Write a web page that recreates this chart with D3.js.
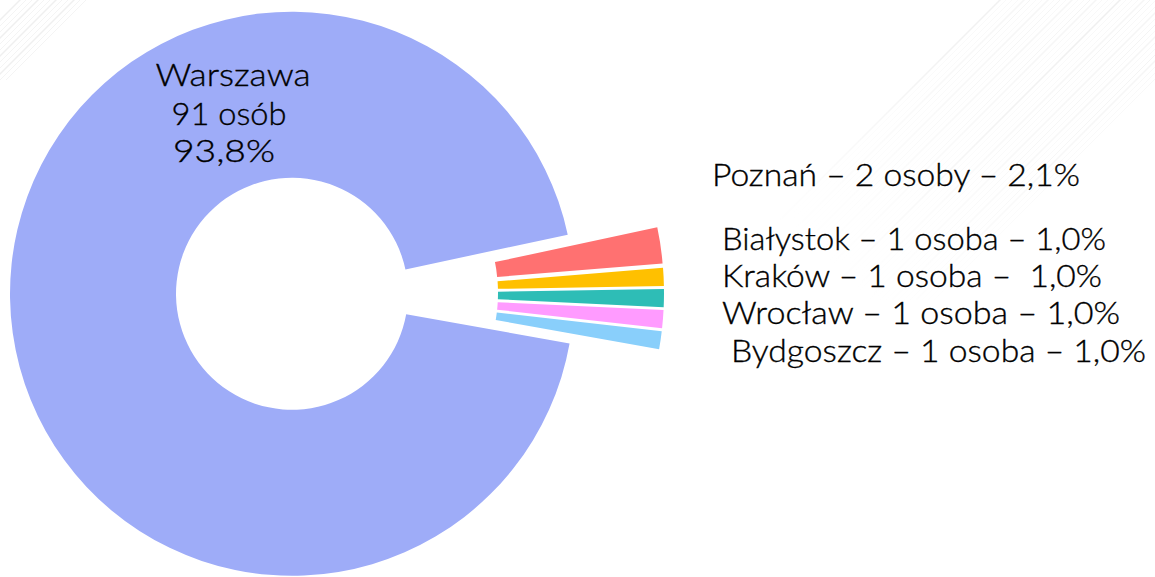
<!DOCTYPE html>
<html>
<head>
<meta charset="utf-8">
<script src="https://cdn.jsdelivr.net/npm/d3@7"></script>
<style>
  html, body { margin: 0; padding: 0; background: #fff; overflow: hidden; }
  text { font-family: Lato, "DejaVu Sans", sans-serif; font-weight: 300; fill: #000; stroke: #000; stroke-width: 0.35; white-space: pre; }
</style>
</head>
<body>
<div id="chart"></div>
<script>
// data
const cities = ['Poznań', 'Białystok', 'Kraków', 'Wrocław', 'Bydgoszcz', 'Warszawa'];
const counts = [2, 1, 1, 1, 1, 91];
const colors = ['#ff7171', '#ffc000', '#2ebdb6', '#ff9bff', '#89cffb', '#9eacf8'];
const sideLabels = [
  'Poznań – 2 osoby – 2,1%',
  'Białystok – 1 osoba – 1,0%',
  'Kraków – 1 osoba –  1,0%',
  'Wrocław – 1 osoba – 1,0%',
  'Bydgoszcz – 1 osoba – 1,0%'
];
const mainLabel = ['Warszawa', '91 osób', '93,8%'];

const width = 1155;
const height = 577;

const svg = d3.select('#chart').append('svg')
  .attr('width', width)
  .attr('height', height);

drawBackground(svg);

const center = {x: 337, y: 293};
const explode = 45;

const pie = d3.pie()
  .sort(null)
  .value(function(d) { return d.count; })
  .startAngle(77.9 * Math.PI / 180)
  .endAngle(77.9 * Math.PI / 180 + 2 * Math.PI);

const arc = d3.arc()
  .innerRadius(116)
  .outerRadius(282);

const data = cities.map(function(c, i) {
  return {city: c, count: counts[i], color: colors[i]};
});

svg.append('g')
  .attr('class', 'slices')
  .selectAll('path')
  .data(pie(data))
  .enter()
  .append('path')
  .attr('d', arc)
  .attr('fill', function(d) { return d.data.color; })
  .attr('transform', function(d) {
    const a = (d.startAngle + d.endAngle) / 2;
    const dx = center.x + Math.sin(a) * explode;
    const dy = center.y - Math.cos(a) * explode;
    return 'translate(' + dx + ',' + dy + ')';
  });

// label inside the big slice
const mainPos = [[233, 86, 155], [229, 125, 115], [224, 162, 102]];
svg.append('g')
  .selectAll('text')
  .data(mainLabel)
  .enter()
  .append('text')
  .attr('x', function(d, i) { return mainPos[i][0]; })
  .attr('y', function(d, i) { return mainPos[i][1]; })
  .attr('text-anchor', 'middle')
  .attr('font-size', 31)
  .attr('textLength', function(d, i) { return mainPos[i][2]; })
  .attr('lengthAdjust', 'spacingAndGlyphs')
  .text(function(d) { return d; });

// labels for the small slices
const sidePos = [[712, 186, 368], [722, 250, 384], [722, 287, 380], [722, 324, 398], [731, 362, 415]];
svg.append('g')
  .selectAll('text')
  .data(sideLabels)
  .enter()
  .append('text')
  .attr('x', function(d, i) { return sidePos[i][0]; })
  .attr('y', function(d, i) { return sidePos[i][1]; })
  .attr('font-size', 31)
  .attr('textLength', function(d, i) { return sidePos[i][2]; })
  .attr('lengthAdjust', 'spacingAndGlyphs')
  .text(function(d) { return d; });

function drawBackground(svg) {
  // faint diagonal streaks of the slide template
  const g = svg.append('g').attr('class', 'streaks');
  const grad = svg.append('defs').append('linearGradient')
    .attr('id', 'fade')
    .attr('gradientUnits', 'userSpaceOnUse')
    .attr('x1', 880).attr('y1', 330).attr('x2', 1155).attr('y2', 40);
  grad.append('stop').attr('offset', '0').attr('stop-color', '#e8e8e8').attr('stop-opacity', 0);
  grad.append('stop').attr('offset', '0.6').attr('stop-color', '#e8e8e8').attr('stop-opacity', 0.7);
  grad.append('stop').attr('offset', '1').attr('stop-color', '#e8e8e8').attr('stop-opacity', 0.9);

  d3.range(0, 40).forEach(function(i) {
    const off = 1000 + i * 6;
    g.append('line')
      .attr('x1', off - 300).attr('y1', 300)
      .attr('x2', off + 10).attr('y2', -10)
      .attr('stroke', 'url(#fade)')
      .attr('stroke-width', i % 4 === 0 ? 1.4 : 0.7)
      .attr('stroke-opacity', i % 5 === 0 ? 0.8 : 0.5);
  });
  d3.range(0, 12).forEach(function(i) {
    const off = 20 + i * 6;
    g.append('line')
      .attr('x1', off - 80).attr('y1', 80)
      .attr('x2', off + 10).attr('y2', -10)
      .attr('stroke', '#efefef')
      .attr('stroke-width', i % 3 === 0 ? 1.4 : 0.7);
  });
}
</script>
</body>
</html>
